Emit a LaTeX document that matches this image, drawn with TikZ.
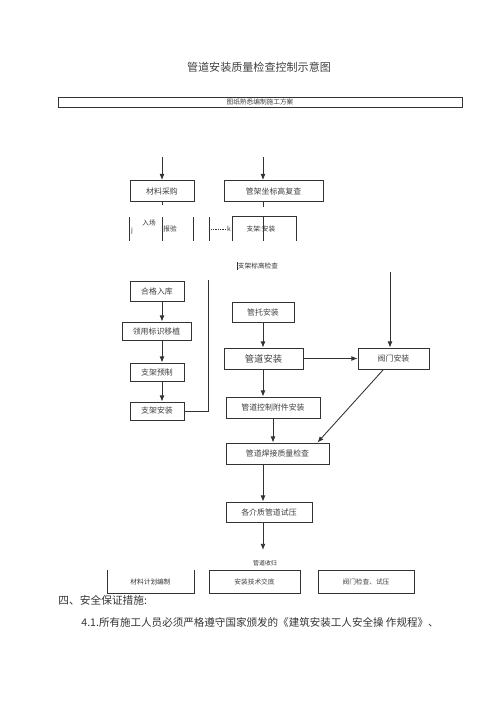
\documentclass[tikz,border=0pt]{standalone}
\usepackage{fontspec}
\setmainfont{Noto Sans CJK SC}
\usetikzlibrary{arrows.meta}

\tikzset{
  box/.style={draw,inner sep=0pt,text=black!75,font=\fontsize{4.5pt}{5pt}\selectfont},
  lbl/.style={inner sep=0pt,text=black!80,font=\fontsize{3.8pt}{4pt}\selectfont}
}

\begin{document}
\begin{tikzpicture}[x=0.02cm,y=-0.02cm,line width=0.5pt,draw=black!80,
    >={Latex[length=3.5pt,width=2.8pt]}]
  \useasboundingbox (0,0) rectangle (500,707);

  \node (title) at (259,67) [inner sep=0pt,text=black!75,font=\fontsize{6.3pt}{7pt}\selectfont] {管道安装质量检查控制示意图};
  \node (plan)  at (260,102) [box,minimum width=8.08cm,minimum height=0.2cm,font=\fontsize{3.8pt}{4pt}\selectfont] {图纸熟悉编制施工方案};

  \coordinate (col) at (263,0);
  \coordinate (in1) at (162,157);
  \coordinate (in2) at (263,157);
  \coordinate (in3) at (390,272);
  \coordinate (back) at (208,280);
  \coordinate (end) at (263,550);

  % upper row
  \node (caigou) at (162,191)   [box,minimum width=1.28cm,minimum height=0.42cm] {材料采购};
  \node (fucha)  at (273.5,191) [box,minimum width=1.98cm,minimum height=0.42cm] {管架坐标高复查};
  \draw[->] (in1) -- (in1 |- caigou.north);
  \draw[->] (in2) -- (in2 |- fucha.north);
  \draw (caigou.south) -- ++(0,3);
  \draw (fucha.south -| col) -- ++(0,5);

  % broken row
  \draw (129,217) -- (129,241);
  \draw (162,217) -- (162,241);
  \draw (193,217) -- (193,241);
  \draw (209,217) -- (209,241);
  \draw (232,241) -- (232,216) -- (296,216) -- (296,241);
  \draw (263,216) -- (263,241);
  \node (ruchang) at (149,223) [lbl] {入场};
  \node (baoyan)  at (163,229) [lbl,anchor=west] {报验};
  \node (jmark)   at (132,231) [lbl] {j};
  \node (kmark)   at (229,229) [lbl] {k};
  \draw[line width=0.3pt,dash pattern=on 0.5pt off 0.5pt] (211,229) -- (kmark.west);
  \node (zhijia)  at (261,229) [lbl] {支架:安装};
  \node (biaogao) at (258,266) [lbl] {支架标高检查};
  \draw (biaogao.north west) -- (biaogao.south west);

  % left column
  \node (hege)     at (157,291)   [box,minimum width=1.08cm,minimum height=0.4cm] {合格入库};
  \node (lingyong) at (156.5,331) [box,minimum width=1.38cm,minimum height=0.36cm] {领用标识移植};
  \node (yuzhi)    at (157,372)   [box,minimum width=1.08cm,minimum height=0.36cm] {支架预制};
  \node (anzhuang) at (157,411)   [box,minimum width=1.08cm,minimum height=0.36cm] {支架安装};
  \draw[->] (hege.south -| in1) -- (lingyong.north -| in1);
  \draw[->] (lingyong.south -| in1) -- (yuzhi.north -| in1);
  \draw[->] (yuzhi.south -| in1) -- (anzhuang.north -| in1);
  \draw (anzhuang.east) -| (back);

  % right part
  \node (guantuo) at (263,312)   [box,minimum width=1.24cm,minimum height=0.4cm] {管托安装};
  \node (guandao) at (263.5,358.5) [box,minimum width=1.58cm,minimum height=0.42cm,font=\fontsize{5.3pt}{6pt}\selectfont] {管道安装};
  \node (famen)   at (393.5,358.5) [box,minimum width=1.42cm,minimum height=0.42cm] {阀门安装};
  \node (fujian)  at (273,407.5) [box,minimum width=1.88cm,minimum height=0.42cm] {管道控制附件安装};
  \node (hanjie)  at (277.5,453.5) [box,minimum width=2.06cm,minimum height=0.42cm] {管道焊接质量检查};
  \node (shiya)   at (269,512)   [box,minimum width=1.72cm,minimum height=0.4cm] {各介质管道试压};
  \draw[->] (guantuo.south -| col) -- (guandao.north -| col);
  \draw[->] (guandao.east) -- (famen.west);
  \draw[->] (in3) -- (in3 |- famen.north);
  \draw[->] (guandao.south -| col) -- (fujian.north -| col);
  \draw[->] (fujian.south) -- (fujian.south |- hanjie.north);
  \draw[->] ([xshift=-0.2cm]famen.south) -- ([xshift=-0.24cm]hanjie.north east);
  \draw[->] (hanjie.south -| col) -- (shiya.north -| col);
  \draw[->] (shiya.south -| col) -- (end);
  \node (shougui) at (265,563) [lbl,font=\fontsize{3.4pt}{4pt}\selectfont] {管道收归};

  % bottom row
  \node (jihua)   at (150.5,581.5) [lbl] {材料计划编制};
  \draw (107,570) -- (107,593) -- (194,593) -- (194,570);
  \node (jiaodi)  at (254.5,581.5) [box,minimum width=1.82cm,minimum height=0.46cm,font=\fontsize{3.8pt}{4pt}\selectfont] {安装技术交底};
  \node (jiancha) at (366,581.5)   [box,minimum width=1.92cm,minimum height=0.46cm,font=\fontsize{3.8pt}{4pt}\selectfont] {阀门检查、试压};

  \node (sec)  at (58,600) [anchor=west,inner sep=0pt,text=black!80,font=\fontsize{6.1pt}{7pt}\selectfont] {四、安全保证措施:};
  \node (rule) at (81,622) [anchor=west,inner sep=0pt,text=black!80,font=\fontsize{6pt}{7pt}\selectfont] {4.1.所有施工人员必须严格遵守国家颁发的《建筑安装工人安全操 作规程》、};
\end{tikzpicture}
\end{document}
